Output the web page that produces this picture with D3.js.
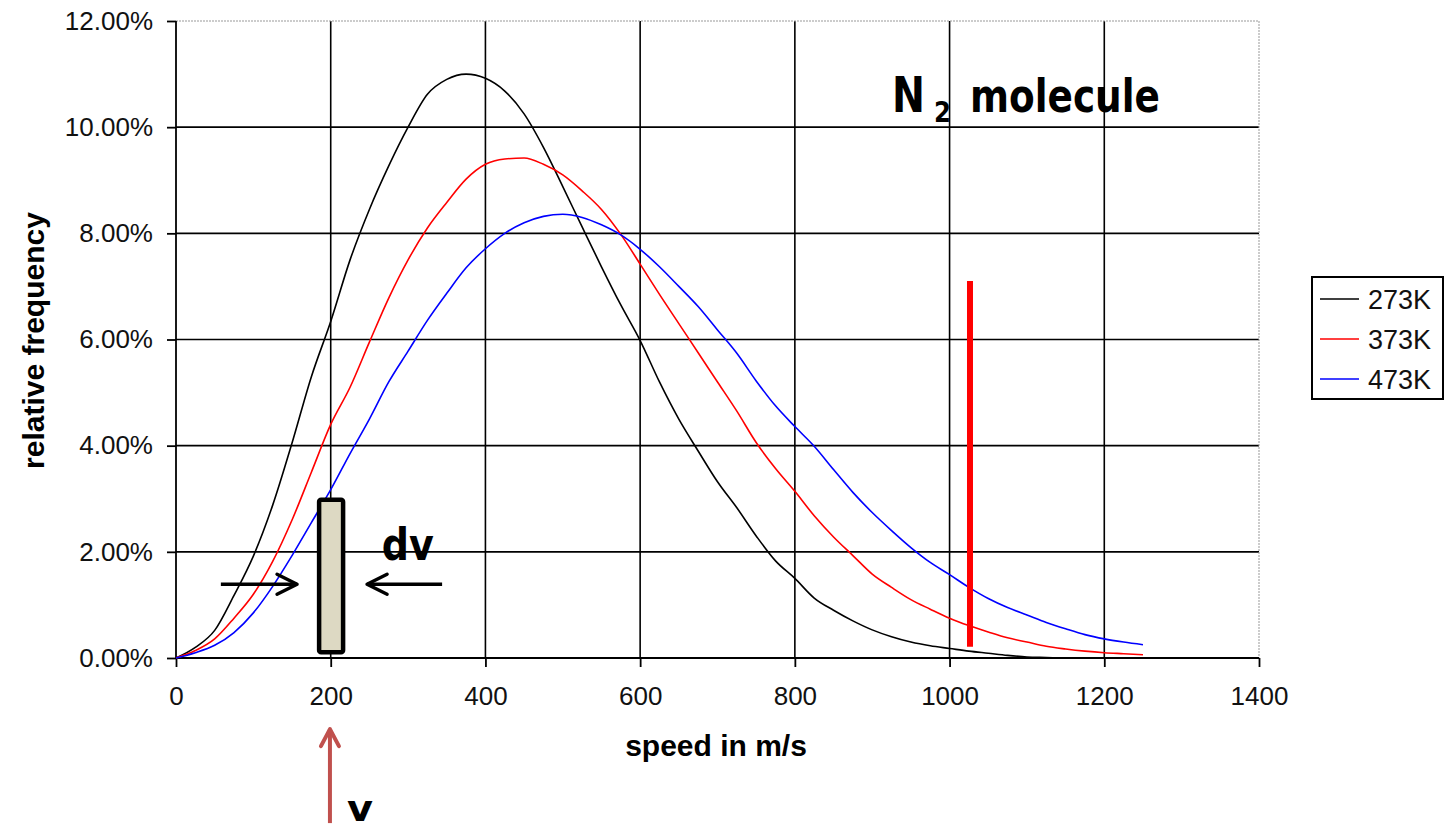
<!DOCTYPE html>
<html>
<head>
<meta charset="utf-8">
<script src="https://cdn.jsdelivr.net/npm/d3@7"></script>
<style>
  body { margin: 0; background: #fff; }
  svg { display: block; font-family: Arial, 'Liberation Sans', sans-serif; }
  .grid { stroke: #000; stroke-width: 1.6; }
  .border { stroke: #999; stroke-width: 1; stroke-dasharray: 2,1; fill: none; }
  .axis path, .axis line { stroke: #000; stroke-width: 1.8; }
  .axis text { font-size: 26px; fill: #111; font-family: Arial, 'Liberation Sans', sans-serif; }
  .label { font-size: 30px; font-weight: bold; text-anchor: middle; fill: #000; }
  .note { font-family: 'Comic Sans MS', 'DejaVu Sans', sans-serif; font-weight: bold; fill: #000; }
  .legend text { font-size: 27px; fill: #111; }
</style>
</head>
<body>
<svg id="chart" width="1444" height="832"></svg>
<script>
// speeds in m/s
var speeds = [0, 25, 50, 75, 100, 125, 150, 175, 200, 225, 250, 275, 300, 325, 350, 375, 400,
  425, 450, 475, 500, 525, 550, 575, 600, 625, 650, 675, 700, 725, 750, 775, 800,
  825, 850, 875, 900, 925, 950, 975, 1000, 1025, 1050, 1075, 1100, 1125, 1150, 1175, 1200,
  1225, 1250];

// relative frequency in %
var k273 = [0, 0.2, 0.52, 1.18, 1.92, 2.88, 4.05, 5.3, 6.34, 7.5, 8.45, 9.27, 10.0, 10.62, 10.9, 11.0, 10.92,
  10.68, 10.25, 9.62, 8.88, 8.12, 7.37, 6.65, 5.98, 5.2, 4.5, 3.9, 3.32, 2.83, 2.3, 1.83, 1.5,
  1.13, 0.9, 0.7, 0.53, 0.4, 0.3, 0.23, 0.18, 0.13, 0.09, 0.05, 0.02, 0.01, 0, 0, 0,
  null, null];
var k373 = [0, 0.14, 0.36, 0.75, 1.2, 1.82, 2.6, 3.5, 4.4, 5.1, 5.95, 6.78, 7.5, 8.1, 8.58, 9.02, 9.3,
  9.4, 9.42, 9.3, 9.1, 8.8, 8.45, 7.98, 7.42, 6.85, 6.3, 5.75, 5.2, 4.65, 4.06, 3.57, 3.14,
  2.68, 2.28, 1.93, 1.58, 1.33, 1.1, 0.92, 0.75, 0.61, 0.49, 0.38, 0.3, 0.22, 0.17, 0.13, 0.1,
  0.08, 0.06];
var k473 = [0, 0.1, 0.24, 0.48, 0.85, 1.35, 1.93, 2.55, 3.17, 3.85, 4.5, 5.2, 5.78, 6.36, 6.87, 7.35, 7.71,
  8.0, 8.2, 8.32, 8.36, 8.3, 8.16, 7.97, 7.7, 7.37, 7.0, 6.62, 6.18, 5.74, 5.22, 4.75, 4.36,
  3.99, 3.55, 3.12, 2.74, 2.4, 2.08, 1.8, 1.57, 1.33, 1.12, 0.95, 0.81, 0.67, 0.55, 0.44, 0.36,
  0.3, 0.25];

var seriesNames = ['273K', '373K', '473K'];
var xTicks = [0, 200, 400, 600, 800, 1000, 1200, 1400];
var yTicks = [0, 2, 4, 6, 8, 10, 12];

var colors = ['#000', '#ff0000', '#0000ff'];

var svg = d3.select('#chart');
var margin = {left: 176, top: 21, right: 185, bottom: 174};
var width = 1444 - margin.left - margin.right;
var height = 832 - margin.top - margin.bottom;

var x = d3.scaleLinear().domain([0, 1400]).range([margin.left, margin.left + width]);
var y = d3.scaleLinear().domain([0, 12]).range([margin.top + height, margin.top]);

var series = [k273, k373, k473].map((vals, i) => ({
  name: seriesNames[i],
  color: colors[i],
  values: speeds.map((v, j) => ({v: v, p: vals[j]})).filter(d => d.p != null)
}));

///////////////////////////////////////////////////////////////
// grid + plot border
///////////////////////////////////////////////////////////////
svg.selectAll('.hgrid')
  .data(yTicks.filter(d => d > 0 && d < 12))
  .enter().append('line')
  .attr('class', 'grid')
  .attr('x1', x(0)).attr('x2', x(1400))
  .attr('y1', d => y(d)).attr('y2', d => y(d));

svg.selectAll('.vgrid')
  .data(xTicks.filter(d => d > 0 && d < 1400))
  .enter().append('line')
  .attr('class', 'grid')
  .attr('x1', d => x(d)).attr('x2', d => x(d))
  .attr('y1', y(0)).attr('y2', y(12));

svg.append('path')
  .attr('class', 'border')
  .attr('d', 'M' + x(0) + ',' + y(12) + 'H' + x(1400) + 'V' + y(0));

///////////////////////////////////////////////////////////////
// axes
///////////////////////////////////////////////////////////////
var xAxis = d3.axisBottom(x)
  .tickValues(xTicks)
  .tickSize(9)
  .tickPadding(20)
  .tickFormat(d3.format('d'));

svg.append('g')
  .attr('class', 'axis')
  .attr('transform', 'translate(0,' + y(0) + ')')
  .call(xAxis)
  .call(g => g.select('.domain').attr('d', 'M' + x(0) + ',0H' + x(1400)));

var yAxis = d3.axisLeft(y)
  .tickValues(yTicks)
  .tickSize(9)
  .tickPadding(14)
  .tickFormat(d => d.toFixed(2) + '%');

svg.append('g')
  .attr('class', 'axis')
  .attr('transform', 'translate(' + x(0) + ',0)')
  .call(yAxis)
  .call(g => g.select('.domain').attr('d', 'M0,' + y(0) + 'V' + y(12)));

svg.append('text')
  .attr('class', 'label')
  .attr('x', 716)
  .attr('y', 756)
  .text('speed in m/s');

svg.append('text')
  .attr('class', 'label')
  .attr('transform', 'translate(44,' + (margin.top + height / 2 + 1) + ') rotate(-90)')
  .text('relative frequency');

///////////////////////////////////////////////////////////////
// curves
///////////////////////////////////////////////////////////////
var line = d3.line()
  .x(d => x(d.v))
  .y(d => y(d.p))
  .curve(d3.curveMonotoneX);

svg.selectAll('.curve')
  .data(series)
  .enter().append('path')
  .attr('class', 'curve')
  .attr('fill', 'none')
  .attr('stroke', d => d.color)
  .attr('stroke-width', 1.6)
  .attr('d', d => line(d.values));

///////////////////////////////////////////////////////////////
// annotations (data units)
///////////////////////////////////////////////////////////////
// dv bin
svg.append('rect')
  .attr('x', x(185)).attr('y', y(2.98))
  .attr('width', x(216) - x(185)).attr('height', y(0.11) - y(2.98))
  .attr('rx', 2)
  .attr('fill', '#ddd9c3')
  .attr('stroke', '#000')
  .attr('stroke-width', 4.5);

function arrow(x1, x2, yy, color, w) {
  var dir = x2 > x1 ? -1 : 1;
  svg.append('line')
    .attr('x1', x1).attr('x2', x2).attr('y1', yy).attr('y2', yy)
    .attr('stroke', color).attr('stroke-width', w);
  svg.append('path')
    .attr('d', 'M' + (x2 + dir * 20) + ',' + (yy - 10) + 'L' + x2 + ',' + yy + 'L' + (x2 + dir * 20) + ',' + (yy + 10))
    .attr('fill', 'none').attr('stroke', color).attr('stroke-width', w)
    .attr('stroke-linecap', 'round').attr('stroke-linejoin', 'round');
}
arrow(x(58), x(156.5), y(1.39), '#000', 3.5);
arrow(x(344), x(247), y(1.39), '#000', 3.5);

svg.append('text')
  .attr('class', 'note')
  .attr('x', x(266)).attr('y', y(1.85))
  .attr('font-size', 44)
  .attr('textLength', 52).attr('lengthAdjust', 'spacingAndGlyphs')
  .text('dv');

// red marker line
svg.append('line')
  .attr('x1', x(1026.4)).attr('x2', x(1026.4))
  .attr('y1', y(7.1)).attr('y2', y(0.21))
  .attr('stroke', '#ff0000').attr('stroke-width', 6);

// v arrow below axis
var vx = x(199);
svg.append('line')
  .attr('x1', vx).attr('x2', vx)
  .attr('y1', y(-1.34)).attr('y2', y(-3.11))
  .attr('stroke', '#c0504d').attr('stroke-width', 4);
svg.append('path')
  .attr('d', 'M' + (vx - 9) + ',' + (y(-1.34) + 17) + 'L' + vx + ',' + y(-1.34) + 'L' + (vx + 9) + ',' + (y(-1.34) + 17))
  .attr('fill', 'none').attr('stroke', '#c0504d').attr('stroke-width', 4)
  .attr('stroke-linecap', 'round').attr('stroke-linejoin', 'round');

svg.append('text')
  .attr('class', 'note')
  .attr('x', x(221)).attr('y', y(-3.08))
  .attr('font-size', 36)
  .attr('textLength', 26).attr('lengthAdjust', 'spacingAndGlyphs')
  .text('v');

// title
svg.append('text')
  .attr('class', 'note')
  .attr('x', x(925.6)).attr('y', y(10.29))
  .attr('font-size', 50)
  .attr('textLength', 33).attr('lengthAdjust', 'spacingAndGlyphs')
  .text('N');
svg.append('text')
  .attr('class', 'note')
  .attr('x', x(980)).attr('y', y(10.1))
  .attr('font-size', 28)
  .attr('textLength', 17).attr('lengthAdjust', 'spacingAndGlyphs')
  .text('2');
svg.append('text')
  .attr('class', 'note')
  .attr('x', x(1026.4)).attr('y', y(10.29))
  .attr('font-size', 46)
  .attr('textLength', 190).attr('lengthAdjust', 'spacingAndGlyphs')
  .text('molecule');

///////////////////////////////////////////////////////////////
// legend
///////////////////////////////////////////////////////////////
var legend = svg.append('g')
  .attr('class', 'legend')
  .attr('transform', 'translate(1312,277)');

legend.append('rect')
  .attr('width', 131).attr('height', 122)
  .attr('fill', '#fff').attr('stroke', '#000').attr('stroke-width', 2);

var item = legend.selectAll('.item')
  .data(series)
  .enter().append('g')
  .attr('class', 'item')
  .attr('transform', (d, i) => 'translate(0,' + (22 + i * 40) + ')');

item.append('line')
  .attr('x1', 8).attr('x2', 47)
  .attr('stroke', d => d.color).attr('stroke-width', 1.6);

item.append('text')
  .attr('x', 56).attr('dy', '0.36em')
  .text(d => d.name);
</script>
</body>
</html>
